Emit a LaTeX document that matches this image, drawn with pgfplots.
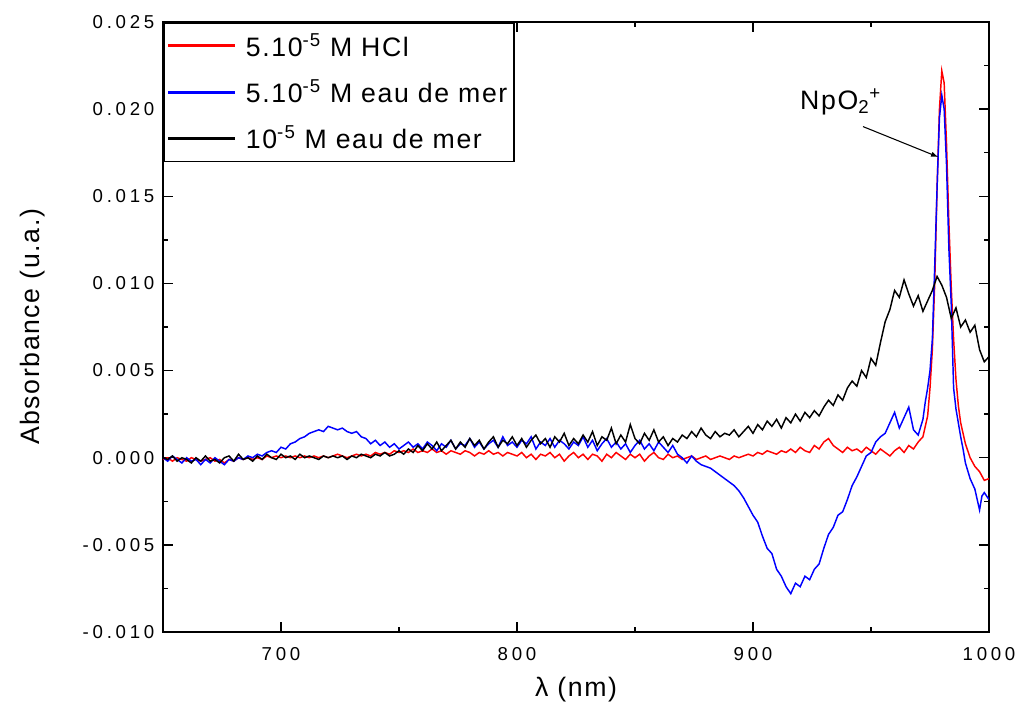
\documentclass[border=0pt]{standalone}
\usepackage{fontspec}
\setmainfont{Liberation Sans}
\newfontfamily\tickfont{Liberation Sans}[LetterSpace=20]
\newfontfamily\labfont{Liberation Sans}[LetterSpace=6]
\usepackage{pgfplots}
\pgfplotsset{compat=1.18}
\definecolor{specblue}{RGB}{0,0,255}
\definecolor{specred}{RGB}{255,0,0}
\begin{document}
\begin{tikzpicture}
\path[use as bounding box] (-122.25pt,-63pt) rectangle (639.75pt,474pt);
\begin{axis}[
  at={(0,0)}, anchor=south west, scale only axis,
  width=619.5pt, height=457.5pt,
  xmin=650, xmax=1000, ymin=-0.010, ymax=0.025,
  xtick={700,800,900,1000}, minor xtick={750,850,950},
  ytick={-0.01,-0.005,0,0.005,0.01,0.015,0.02,0.025},
  minor ytick={-0.0075,-0.0025,0.0025,0.0075,0.0125,0.0175,0.0225},
  tick align=inside, major tick length=7.5pt, minor tick length=3.75pt,
  tick style={black, line width=1pt},
  axis line style={line width=1.5pt},
  scaled y ticks=false,
  yticklabel style={/pgf/number format/.cd, fixed, fixed zerofill, precision=3, assume math mode=true, /tikz/.cd, xshift=-3pt},
  xticklabel style={/pgf/number format/.cd, fixed, precision=0, 1000 sep={}, assume math mode=true, /tikz/.cd, yshift=-8pt},
  ticklabel style={font=\tickfont\fontsize{14}{16}\selectfont},
  xlabel={λ (nm)}, ylabel={Absorbance (u.a.)},
  label style={font=\labfont\fontsize{20}{23}\selectfont},
  x label style={at={(axis description cs:0.5,-0.0951)}, anchor=center},
  y label style={at={(axis description cs:-0.1574,0.5)}, anchor=center},
  legend style={at={(0,1)}, anchor=north west, draw=black, line width=1.2pt,
    font=\labfont\fontsize{20}{23}\selectfont, row sep=12pt, inner xsep=3pt, inner ysep=6pt,
    cells={anchor=west}, /tikz/every odd column/.append style={column sep=6pt}},
  legend image code/.code={\fill[#1] (0pt,-0.6pt) rectangle (49.5pt,0.6pt);},
]
\addplot[color=specred, line width=1.1pt] coordinates {
(650,-0.0001)(652,0)(654,-0.0002)(656,0)(658,-0.0001)(660,-0.0002)(662,0)(664,-0.0001)(666,-0.0002)(668,-0.0001)(670,0)(672,-0.0002)(674,-0.0001)(676,-0.0003)(678,-0.0001)(680,-0.0002)(682,0)(684,-0.0001)(686,0)(688,-0.0001)(690,0)(692,-0.0001)(694,0.0001)(696,0)(698,0.0001)(700,0)(702,0.0001)(704,0)(706,0.0001)(708,0)(710,0.0001)(712,0)(714,0.0001)(716,0)(718,0.0001)(720,0)(722,0.0001)(724,0.0002)(726,0.0001)(728,0)(730,0.0001)(732,0.0002)(734,0.0001)(736,0.0002)(738,0.0001)(740,0.0003)(742,0.0002)(744,0.0003)(746,0.0002)(748,0.0004)(750,0.0003)(752,0.0004)(754,0.0003)(756,0.0005)(758,0.0003)(760,0.0004)(762,0.0003)(764,0.0005)(766,0.0003)(768,0.0004)(770,0.0002)(772,0.0004)(774,0.0003)(776,0.0002)(778,0.0004)(780,0.0003)(782,0.0001)(784,0.0003)(786,0.0002)(788,0.0004)(790,0.0002)(792,0.0003)(794,0.0001)(796,0.0003)(798,0.0002)(800,0.0001)(802,0.0003)(804,0)(806,0.0002)(808,-0.0001)(810,0.0002)(812,0.0001)(814,0.0003)(816,0)(818,0.0002)(820,-0.0002)(822,0.0001)(824,0.0003)(826,0)(828,0.0002)(830,-0.0001)(832,0.0002)(834,0.0001)(836,-0.0002)(838,0.0002)(840,0)(842,0.0003)(844,0.0001)(846,-0.0001)(848,0.0002)(850,0)(852,0.0002)(854,-0.0002)(856,0.0001)(858,0.0003)(860,0)(862,-0.0001)(864,0.0002)(866,0)(868,0.0001)(870,-0.0001)(872,0)(874,0.0001)(876,-0.0001)(878,0)(880,0.0001)(882,-0.0001)(884,0)(886,0.0001)(888,0)(890,-0.0001)(892,0.0001)(894,0)(896,0.0001)(898,0.0002)(900,0.0001)(902,0.0003)(904,0.0002)(906,0.0004)(908,0.0003)(910,0.0002)(912,0.0004)(914,0.0003)(916,0.0005)(918,0.0003)(920,0.0006)(922,0.0004)(924,0.0003)(926,0.0007)(928,0.0005)(930,0.0009)(932,0.0011)(934,0.0007)(936,0.0005)(938,0.0003)(940,0.0006)(942,0.0004)(944,0.0005)(946,0.0003)(948,0.0006)(950,0.0004)(952,0.0002)(954,0.0005)(956,0.0003)(958,0.0001)(960,0.0004)(962,0.0006)(964,0.0003)(966,0.0007)(968,0.0005)(970,0.0009)(972,0.0012)(973,0.0018)(974,0.0024)(975,0.0040)(976,0.0062)(977,0.0100)(978,0.0155)(979,0.0200)(980,0.0222)(981,0.0215)(982,0.0180)(983,0.0135)(984,0.0098)(985,0.0068)(986,0.0045)(987,0.0030)(988,0.0020)(989,0.0014)(990,0.0008)(992,0)(994,-0.0005)(996,-0.0008)(998,-0.0013)(1000,-0.0012)
};
\addlegendentry{5.10\textsuperscript{-5} M HCl}
\addplot[color=specblue, line width=1.1pt] coordinates {
(650,0)(652,-0.0002)(654,0.0001)(656,-0.0001)(658,-0.0003)(660,0)(662,-0.0002)(664,-0.0001)(666,-0.0004)(668,-0.0001)(670,-0.0003)(672,0)(674,-0.0002)(676,-0.0004)(678,-0.0001)(680,-0.0002)(682,0)(684,-0.0001)(686,0.0001)(688,0)(690,0.0002)(692,0.0001)(694,0.0003)(696,0.0004)(698,0.0003)(700,0.0006)(702,0.0005)(704,0.0008)(706,0.0009)(708,0.0011)(710,0.0012)(712,0.0014)(714,0.0015)(716,0.0016)(718,0.0015)(720,0.0018)(722,0.0017)(724,0.0016)(726,0.0017)(728,0.0015)(730,0.0014)(732,0.0015)(734,0.0012)(736,0.0011)(738,0.0008)(740,0.0010)(742,0.0007)(744,0.0009)(746,0.0006)(748,0.0008)(750,0.0005)(752,0.0007)(754,0.0009)(756,0.0006)(758,0.0008)(760,0.0005)(762,0.0009)(764,0.0007)(766,0.0004)(768,0.0008)(770,0.0006)(772,0.0010)(774,0.0005)(776,0.0008)(778,0.0007)(780,0.0011)(782,0.0006)(784,0.0009)(786,0.0005)(788,0.0008)(790,0.0010)(792,0.0006)(794,0.0012)(796,0.0007)(798,0.0009)(800,0.0006)(802,0.0010)(804,0.0008)(806,0.0012)(808,0.0005)(810,0.0009)(812,0.0007)(814,0.0011)(816,0.0006)(818,0.0010)(820,0.0008)(822,0.0005)(824,0.0009)(826,0.0007)(828,0.0012)(830,0.0006)(832,0.0010)(834,0.0004)(836,0.0008)(838,0.0011)(840,0.0006)(842,0.0009)(844,0.0005)(846,0.0008)(848,0.0003)(850,0.0007)(852,0.0010)(854,0.0005)(856,0.0008)(858,0.0004)(860,0.0009)(862,0.0006)(864,0.0003)(866,0.0007)(868,0.0002)(870,0)(872,-0.0003)(874,0.0001)(876,-0.0002)(878,-0.0004)(880,-0.0005)(882,-0.0006)(884,-0.0008)(886,-0.0010)(888,-0.0012)(890,-0.0014)(892,-0.0016)(894,-0.0019)(896,-0.0023)(898,-0.0028)(900,-0.0033)(902,-0.0037)(904,-0.0045)(906,-0.0052)(908,-0.0055)(910,-0.0064)(912,-0.0068)(914,-0.0074)(916,-0.0078)(918,-0.0072)(920,-0.0074)(922,-0.0068)(924,-0.0070)(926,-0.0064)(928,-0.0061)(930,-0.0052)(932,-0.0044)(934,-0.0040)(936,-0.0033)(938,-0.0031)(940,-0.0024)(942,-0.0016)(944,-0.0011)(946,-0.0005)(948,0.0001)(950,0.0003)(952,0.0009)(954,0.0012)(956,0.0014)(958,0.0020)(960,0.0026)(962,0.0017)(964,0.0023)(966,0.0029)(968,0.0016)(970,0.0013)(972,0.0022)(973,0.0032)(974,0.0040)(975,0.0050)(976,0.0068)(977,0.0110)(978,0.0155)(979,0.0195)(980,0.0208)(981,0.0200)(982,0.0168)(983,0.0120)(984,0.0088)(985,0.0040)(986,0.0028)(987,0.0020)(988,0.0012)(989,0.0005)(990,-0.0003)(992,-0.0012)(994,-0.0018)(996,-0.0030)(997,-0.0022)(998,-0.0020)(1000,-0.0024)
};
\addlegendentry{5.10\textsuperscript{-5} M eau de mer}
\addplot[color=black, line width=1.1pt] coordinates {
(650,0)(652,-0.0001)(654,0.0001)(656,-0.0002)(658,0)(660,-0.0001)(662,-0.0003)(664,0)(666,-0.0002)(668,0.0001)(670,-0.0002)(672,-0.0001)(674,-0.0003)(676,0)(678,0.0001)(680,-0.0002)(682,0.0002)(684,-0.0001)(686,0)(688,-0.0002)(690,0.0001)(692,-0.0001)(694,0.0002)(696,0)(698,-0.0001)(700,0.0002)(702,0)(704,0.0001)(706,-0.0001)(708,0.0002)(710,0)(712,0.0001)(714,0)(716,-0.0001)(718,0.0001)(720,0)(722,0.0001)(724,0)(726,0.0001)(728,-0.0001)(730,0.0001)(732,0)(734,0.0002)(736,0.0001)(738,0)(740,0.0002)(742,0.0001)(744,0.0003)(746,0.0001)(748,0.0002)(750,0.0004)(752,0.0002)(754,0.0005)(756,0.0003)(758,0.0007)(760,0.0004)(762,0.0008)(764,0.0005)(766,0.0009)(768,0.0004)(770,0.0007)(772,0.0010)(774,0.0005)(776,0.0009)(778,0.0006)(780,0.0011)(782,0.0007)(784,0.0010)(786,0.0005)(788,0.0009)(790,0.0012)(792,0.0006)(794,0.0010)(796,0.0008)(798,0.0012)(800,0.0007)(802,0.0011)(804,0.0006)(806,0.0010)(808,0.0013)(810,0.0008)(812,0.0011)(814,0.0006)(816,0.0012)(818,0.0009)(820,0.0014)(822,0.0007)(824,0.0011)(826,0.0008)(828,0.0013)(830,0.0009)(832,0.0015)(834,0.0007)(836,0.0012)(838,0.0010)(840,0.0017)(842,0.0008)(844,0.0013)(846,0.0009)(848,0.0019)(850,0.0011)(852,0.0008)(854,0.0014)(856,0.0010)(858,0.0016)(860,0.0009)(862,0.0012)(864,0.0007)(866,0.0011)(868,0.0009)(870,0.0013)(872,0.0011)(874,0.0015)(876,0.0012)(878,0.0017)(880,0.0013)(882,0.0011)(884,0.0015)(886,0.0012)(888,0.0014)(890,0.0013)(892,0.0016)(894,0.0012)(896,0.0015)(898,0.0018)(900,0.0014)(902,0.0019)(904,0.0016)(906,0.0021)(908,0.0018)(910,0.0022)(912,0.0017)(914,0.0023)(916,0.0020)(918,0.0025)(920,0.0021)(922,0.0026)(924,0.0023)(926,0.0027)(928,0.0024)(930,0.0029)(932,0.0033)(934,0.0030)(936,0.0036)(938,0.0033)(940,0.0040)(942,0.0044)(944,0.0041)(946,0.0050)(948,0.0046)(950,0.0057)(952,0.0053)(954,0.0066)(956,0.0078)(958,0.0085)(960,0.0096)(962,0.0092)(964,0.0102)(966,0.0094)(968,0.0087)(970,0.0093)(972,0.0084)(974,0.0090)(976,0.0096)(978,0.0104)(980,0.0099)(982,0.0092)(984,0.0080)(986,0.0086)(988,0.0075)(990,0.0079)(992,0.0072)(994,0.0076)(996,0.0062)(998,0.0055)(1000,0.0058)
};
\addlegendentry{10\textsuperscript{-5} M eau de mer}
\node[font=\labfont\fontsize{20}{23}\selectfont, anchor=base west, inner sep=0pt] at (axis cs:919.9,0.0200) {NpO\textsubscript{2}\textsuperscript{+}};
\draw[-latex, line width=0.8pt] (axis cs:946.6,0.0190) -- (axis cs:978.4,0.01726);
\end{axis}
\end{tikzpicture}
\end{document}
